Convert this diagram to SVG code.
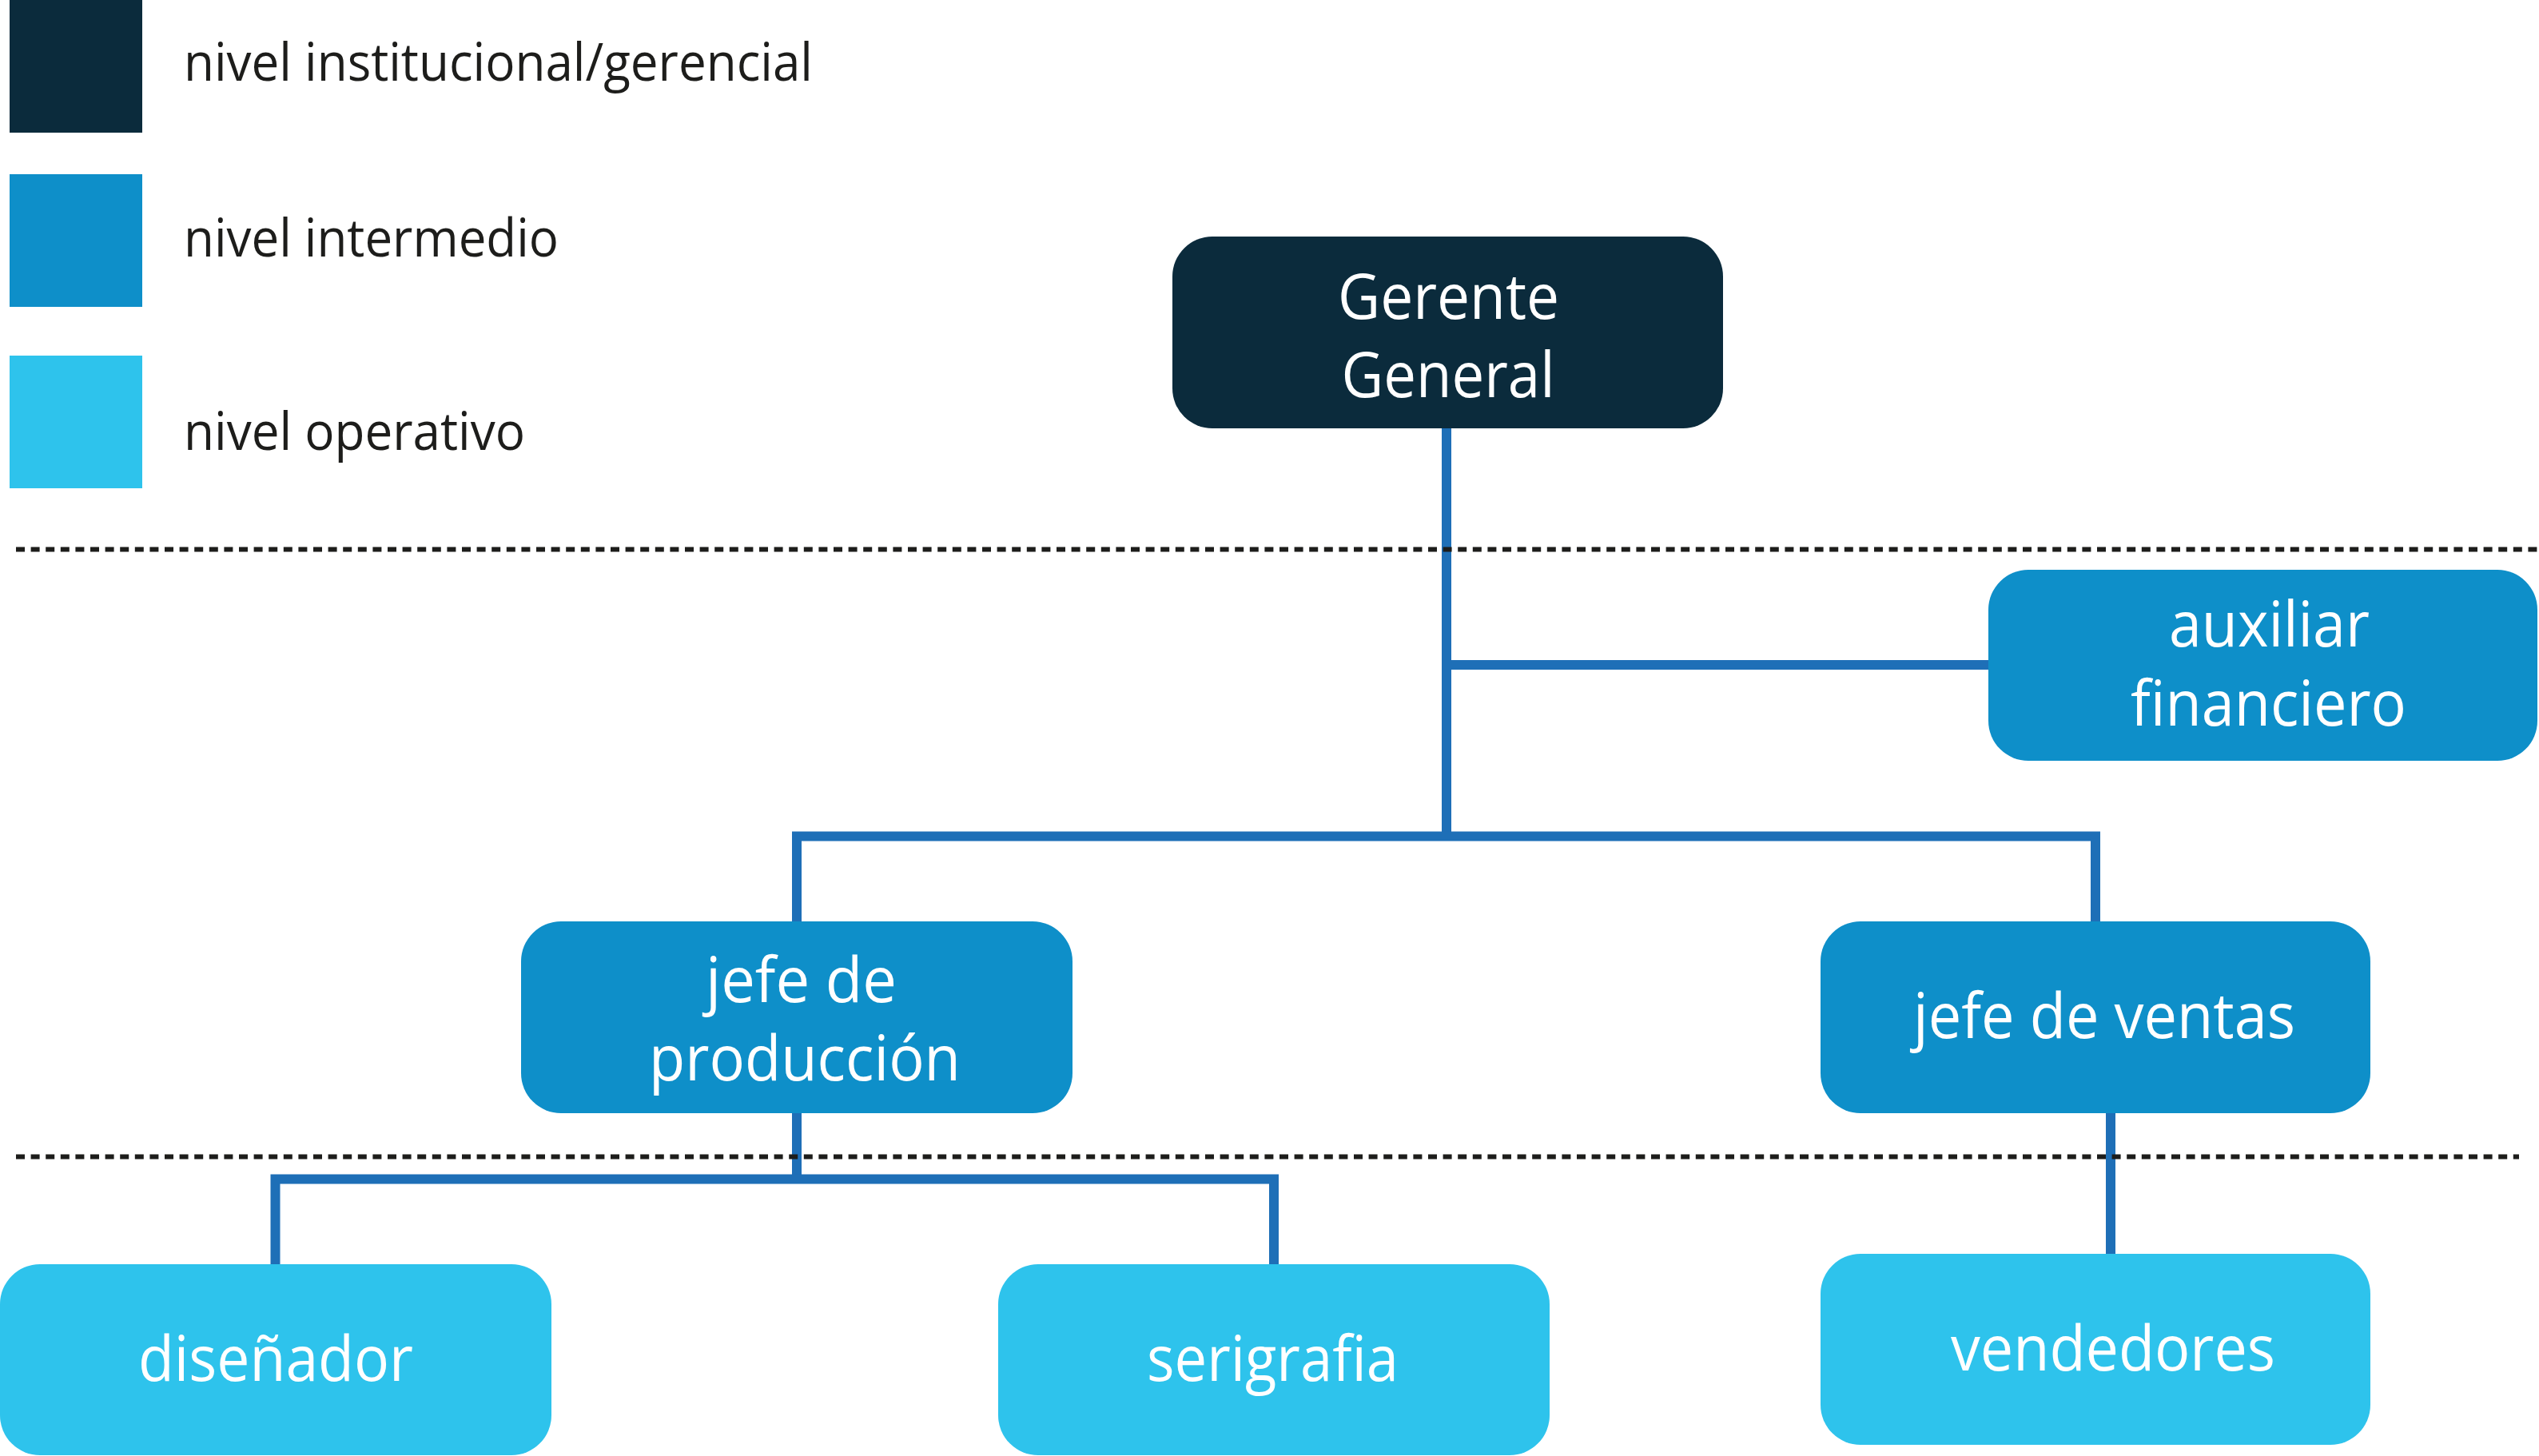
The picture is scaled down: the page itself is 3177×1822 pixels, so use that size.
<svg xmlns="http://www.w3.org/2000/svg" width="3177" height="1822" viewBox="0 0 3177 1822">
<style>
.lg{font-family:"Open Sans","Noto Sans",sans-serif;font-size:65px;fill:#1d1d1b}
.nt{font-family:"Open Sans","Noto Sans",sans-serif;font-size:78px;fill:#ffffff;text-anchor:middle}
.conn{fill:none;stroke:#1e6fb7;stroke-width:12;stroke-linejoin:miter;stroke-linecap:butt}
.dash{stroke:#1d1d1b;stroke-width:6;stroke-dasharray:11 7.6;fill:none}
.top{fill:#0b2b3c}
.mid{fill:#0e8fc9}
.op{fill:#2ec3ec}
</style>
<rect width="3177" height="1822" fill="#ffffff"/>
<g id="legend">
<rect class="top" x="12" y="0" width="166" height="166"/>
<rect class="mid" x="12" y="218" width="166" height="166"/>
<rect class="op" x="12" y="445" width="166" height="166"/>
<text class="lg" x="230" y="101" textLength="787" lengthAdjust="spacingAndGlyphs">nivel institucional/gerencial</text>
<text class="lg" x="230" y="321" textLength="469" lengthAdjust="spacingAndGlyphs">nivel intermedio</text>
<text class="lg" x="230" y="563" textLength="427" lengthAdjust="spacingAndGlyphs">nivel operativo</text>
</g>
<g id="connectors">
<path class="conn" d="M1810 536 V1046.5"/>
<path class="conn" d="M1810 832 H2490"/>
<path class="conn" d="M997 1155 V1046.5 H2622 V1155"/>
<path class="conn" d="M997 1391 V1475.5"/>
<path class="conn" d="M344.5 1584 V1475.5 H1594 V1584"/>
<path class="conn" d="M2641 1391 V1571"/>
</g>
<g id="dividers">
<line class="dash" x1="20" y1="687.5" x2="3177" y2="687.5"/>
<line class="dash" x1="20" y1="1447.5" x2="3152" y2="1447.5"/>
</g>
<g id="gerente-general">
<rect class="top" x="1467" y="296" width="689" height="240" rx="50" ry="50"/>
<text class="nt" x="1812.5" y="399" textLength="277" lengthAdjust="spacingAndGlyphs">Gerente</text>
<text class="nt" x="1812" y="497" textLength="267" lengthAdjust="spacingAndGlyphs">General</text>
</g>
<g id="auxiliar-financiero">
<rect class="mid" x="2488" y="713" width="687" height="239" rx="50" ry="50"/>
<text class="nt" x="2839.5" y="809" textLength="251" lengthAdjust="spacingAndGlyphs">auxiliar</text>
<text class="nt" x="2838.5" y="908" textLength="345" lengthAdjust="spacingAndGlyphs">financiero</text>
</g>
<g id="jefe-produccion">
<rect class="mid" x="652" y="1153" width="690" height="240" rx="50" ry="50"/>
<text class="nt" x="1002.5" y="1254" textLength="239" lengthAdjust="spacingAndGlyphs">jefe de</text>
<text class="nt" x="1007" y="1352" textLength="390" lengthAdjust="spacingAndGlyphs">producción</text>
</g>
<g id="jefe-ventas">
<rect class="mid" x="2278" y="1153" width="688" height="240" rx="50" ry="50"/>
<text class="nt" x="2633" y="1299" textLength="478" lengthAdjust="spacingAndGlyphs">jefe de ventas</text>
</g>
<g id="disenador">
<rect class="op" x="0" y="1582" width="690" height="239" rx="50" ry="50"/>
<text class="nt" x="345" y="1728" textLength="344" lengthAdjust="spacingAndGlyphs">diseñador</text>
</g>
<g id="serigrafia">
<rect class="op" x="1249" y="1582" width="690" height="239" rx="50" ry="50"/>
<text class="nt" x="1592.5" y="1728" textLength="315" lengthAdjust="spacingAndGlyphs">serigrafia</text>
</g>
<g id="vendedores">
<rect class="op" x="2278" y="1569" width="688" height="239" rx="50" ry="50"/>
<text class="nt" x="2644" y="1714.5" textLength="406" lengthAdjust="spacingAndGlyphs">vendedores</text>
</g>
</svg>
